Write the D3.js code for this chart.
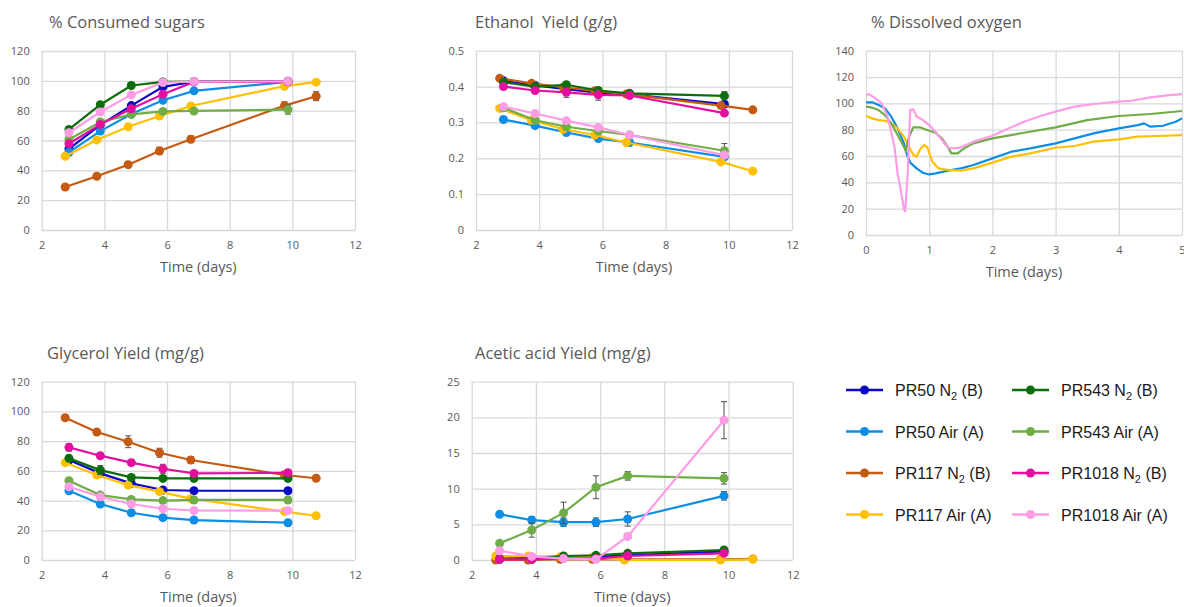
<!DOCTYPE html>
<html>
<head>
<meta charset="utf-8">
<script src="https://cdn.jsdelivr.net/npm/d3@7"></script>
<style>
body { margin: 0; background: #fff; }
svg { display: block; }
</style>
</head>
<body>
<svg width="1184" height="607"></svg>
<script>
// series, in the order Excel draws them (later ones on top)
var seriesNames = ["PR50 N2 (B)", "PR50 Air (A)", "PR117 N2 (B)", "PR117 Air (A)", "PR543 N2 (B)", "PR543 Air (A)", "PR1018 N2 (B)", "PR1018 Air (A)"];
var seriesColors = ["#0a0ac6", "#0d8ee4", "#c55a11", "#ffc000", "#0b6e0b", "#70ad47", "#e3109f", "#ff9ce6"];

// sampling times (days): PR117 runs have an extra sample at the end
var daysShort = [2.87, 3.87, 4.86, 5.87, 6.86, 9.86];
var daysLong = [2.75, 3.76, 4.76, 5.76, 6.76, 9.75, 10.76];
var seriesDays = [daysShort, daysShort, daysLong, daysLong, daysShort, daysShort, daysShort, daysShort];

// % consumed sugars
var sugars = [
	[54.4, 70.5, 83.4, 96.0, 99.5, 99.8],
	[52.1, 66.3, 77.8, 87.0, 93.3, 99.3],
	[28.8, 36.0, 43.8, 53.0, 60.8, 83.4, 89.7],
	[49.4, 60.4, 69.2, 76.4, 83.1, 96.4, 99.1],
	[67.4, 84.0, 96.9, 99.3, 99.5, 99.5],
	[60.7, 72.4, 77.5, 79.5, 79.8, 80.7],
	[57.8, 70.8, 81.3, 91.0, 99.3, 99.3],
	[65.2, 79.1, 90.6, 98.9, 99.5, 99.6]
];
var sugarsErr = [
	[0.8, 0.8, 0.8, 0.8, 0.5, 0.5],
	[0.8, 0.8, 0.8, 0.8, 0.8, 0.5],
	[0.8, 1.0, 2.0, 2.5, 2.2, 2.5, 3.0],
	[0.5, 0.5, 0.5, 0.5, 0.5, 0.5, 0.5],
	[0.8, 0.8, 0.5, 0.5, 0.5, 0.5],
	[1.0, 1.0, 1.0, 1.2, 1.5, 3.0],
	[0.8, 0.8, 0.8, 0.8, 0.5, 0.5],
	[0.5, 0.5, 0.5, 0.5, 0.5, 0.5]
];

// ethanol yield (g/g)
var ethanol = [
	[0.416, 0.403, 0.393, 0.383, 0.378, 0.351],
	[0.308, 0.291, 0.272, 0.255, 0.244, 0.204],
	[0.423, 0.409, 0.398, 0.388, 0.379, 0.347, 0.335],
	[0.339, 0.306, 0.281, 0.265, 0.244, 0.190, 0.164],
	[0.412, 0.400, 0.405, 0.389, 0.381, 0.374],
	[0.341, 0.306, 0.288, 0.276, 0.265, 0.221],
	[0.400, 0.389, 0.384, 0.377, 0.375, 0.326],
	[0.344, 0.325, 0.305, 0.286, 0.265, 0.209]
];
var ethanolErr = [
	[0.004, 0.004, 0.004, 0.004, 0.004, 0.008],
	[0.004, 0.004, 0.004, 0.004, 0.004, 0.006],
	[0.004, 0.004, 0.004, 0.004, 0.004, 0.006, 0.004],
	[0.004, 0.004, 0.004, 0.004, 0.004, 0.004, 0.008],
	[0.004, 0.004, 0.004, 0.006, 0.006, 0.012],
	[0.004, 0.004, 0.004, 0.004, 0.004, 0.020],
	[0.005, 0.005, 0.014, 0.015, 0.006, 0.006],
	[0.004, 0.004, 0.004, 0.004, 0.004, 0.004]
];

// glycerol yield (mg/g)
var glycerol = [
	[67.3, 58.3, 51.6, 47.1, 46.6, 46.6],
	[46.6, 37.7, 31.8, 28.5, 26.9, 25.1],
	[95.7, 86.1, 79.6, 72.2, 67.3, 57.2, 55.0],
	[65.5, 57.2, 50.4, 46.0, 41.3, 32.6, 29.8],
	[68.4, 60.5, 55.6, 54.9, 54.9, 54.9],
	[53.4, 43.7, 40.8, 40.0, 40.4, 40.4],
	[75.8, 70.2, 65.5, 61.4, 58.3, 58.7],
	[49.3, 42.6, 37.7, 34.5, 33.3, 33.2]
];
var glycerolErr = [
	[1.5, 1.5, 1.0, 1.0, 1.0, 1.0],
	[1.0, 1.0, 1.0, 1.0, 1.0, 1.0],
	[1.0, 1.5, 4.0, 3.0, 2.2, 2.5, 2.0],
	[1.0, 1.0, 1.0, 1.0, 1.0, 1.0, 1.0],
	[2.0, 3.0, 1.5, 1.0, 1.0, 1.0],
	[1.5, 1.5, 1.5, 2.0, 2.0, 2.0],
	[2.5, 1.5, 1.5, 3.0, 1.0, 2.0],
	[1.0, 1.0, 1.0, 1.0, 1.0, 1.0]
];

// acetic acid yield (mg/g)
var acetic = [
	[0.10, 0.10, 0.35, 0.45, 0.65, 1.20],
	[6.40, 5.60, 5.30, 5.30, 5.75, 9.00],
	[0.00, 0.00, 0.10, 0.10, 0.10, 0.10, 0.15],
	[0.56, 0.56, 0.45, 0.40, 0.00, 0.00, 0.10],
	[0.20, 0.30, 0.56, 0.65, 0.93, 1.40],
	[2.34, 4.20, 6.60, 10.20, 11.80, 11.45],
	[0.10, 0.10, 0.23, 0.20, 0.56, 0.93],
	[1.30, 0.50, 0.20, 0.10, 3.30, 19.60]
];
var aceticErr = [
	[0.1, 0.1, 0.1, 0.1, 0.1, 0.2],
	[0.2, 0.5, 0.6, 0.6, 1.0, 0.6],
	[0.1, 0.1, 0.1, 0.1, 0.1, 0.1, 0.1],
	[0.1, 0.1, 0.1, 0.1, 0.1, 0.1, 0.1],
	[0.1, 0.1, 0.1, 0.1, 0.1, 0.2],
	[0.2, 1.0, 1.5, 1.6, 0.6, 0.8],
	[0.1, 0.1, 0.1, 0.1, 0.1, 0.2],
	[0.1, 0.1, 0.1, 0.1, 0.4, 2.6]
];

// % dissolved oxygen, [day, value] readings for the aerated runs
var o2PR50Air = [[0, 100.8], [0.1, 100.8], [0.2, 98.7], [0.3, 96.2], [0.4, 89.9], [0.5, 81], [0.6, 69.6], [0.65, 60.8], [0.7, 55], [0.8, 50.6], [0.9, 47.3], [1.0, 46], [1.1, 46.8], [1.3, 48.9], [1.5, 50.6], [1.7, 53.2], [2.0, 58.2], [2.3, 63.3], [2.6, 65.8], [3.0, 69.6], [3.3, 73.4], [3.6, 77.2], [4.0, 81], [4.3, 83.5], [4.4, 84.8], [4.5, 82.3], [4.7, 83], [4.9, 86], [5.0, 88.6]];
var o2PR117Air = [[0, 90.4], [0.1, 88.6], [0.2, 87.3], [0.3, 86.8], [0.4, 84.8], [0.5, 81], [0.6, 74.7], [0.68, 67], [0.75, 60.8], [0.8, 59.5], [0.85, 64.6], [0.92, 68.4], [0.97, 66.6], [1.05, 55.7], [1.15, 50.6], [1.3, 49.4], [1.5, 48.9], [1.7, 50.6], [2.0, 55], [2.3, 59.5], [2.6, 62], [3.0, 66.3], [3.3, 67.6], [3.6, 70.9], [4.0, 72.7], [4.3, 74.7], [4.6, 75.2], [5.0, 75.9]];
var o2PR543Air = [[0, 97.5], [0.1, 96.7], [0.2, 94.9], [0.3, 91.1], [0.4, 84.8], [0.5, 75.9], [0.6, 67], [0.63, 63.8], [0.68, 74.7], [0.75, 81.8], [0.85, 81.8], [1.0, 79.2], [1.1, 77.7], [1.2, 73.4], [1.3, 66.6], [1.35, 62], [1.45, 62], [1.55, 65.8], [1.7, 69.6], [2.0, 73.4], [2.5, 77.7], [3.0, 81.8], [3.5, 87.3], [4.0, 90.4], [4.5, 91.9], [5.0, 94.2]];
var o2PR1018Air = [[0, 106.3], [0.05, 107], [0.15, 103.8], [0.25, 100], [0.35, 88.6], [0.45, 67], [0.5, 46.8], [0.55, 34], [0.6, 20], [0.62, 18], [0.66, 47], [0.7, 95], [0.75, 95.4], [0.8, 90], [0.9, 87.3], [1.0, 83.5], [1.1, 78.5], [1.2, 72], [1.3, 66.3], [1.4, 65.8], [1.5, 66.6], [1.7, 70.9], [2.0, 75.4], [2.2, 79.7], [2.5, 86], [2.8, 91], [3.0, 93.7], [3.3, 97.5], [3.6, 99.5], [4.0, 101.3], [4.2, 102], [4.5, 104.6], [4.8, 106.3], [5.0, 107]];
var o2Series = [o2PR50Air, o2PR117Air, o2PR543Air, o2PR1018Air];
var o2Colors = [seriesColors[1], seriesColors[3], seriesColors[5], seriesColors[7]];

// tick labels
var timeTicks = [2, 4, 6, 8, 10, 12];
var o2TimeTicks = [0, 1, 2, 3, 4, 5];
var pctTicks = [0, 20, 40, 60, 80, 100, 120];
var o2Ticks = [0, 20, 40, 60, 80, 100, 120, 140];
var ethanolTicks = [0, 0.1, 0.2, 0.3, 0.4, 0.5];
var aceticTicks = [0, 5, 10, 15, 20, 25];

var svg = d3.select("svg");
var font = "'Open Sans', 'Liberation Sans', sans-serif";

function drawPanel(p) {
	var x = d3.scaleLinear().domain(p.xDomain).range([p.left, p.right]);
	var y = d3.scaleLinear().domain(p.yDomain).range([p.bottom, p.top]);
	var g = svg.append("g");

	// title
	g.append("text")
		.attr("x", p.titleX)
		.attr("y", p.top - 23)
		.attr("fill", "#595959")
		.style("font-family", font)
		.style("font-size", "16.5px")
		.style("white-space", "pre")
		.text(p.title);

	// gridlines doubling as axes
	g.append("g")
		.attr("transform", "translate(0," + p.bottom + ")")
		.call(d3.axisBottom(x).tickValues(p.xTicks).tickSize(-(p.bottom - p.top)).tickPadding(11).tickFormat(d3.format("d")));
	g.append("g")
		.attr("transform", "translate(" + p.left + ",0)")
		.call(d3.axisLeft(y).tickValues(p.yTicks).tickSize(-(p.right - p.left)).tickPadding(12).tickFormat(function(d) { return String(d); }));
	g.selectAll(".domain").remove();
	g.selectAll(".tick line").attr("stroke", "#d9d9d9").attr("stroke-width", 1.3);
	g.selectAll(".tick text").attr("fill", "#595959").style("font-family", font).style("font-size", "11px");

	g.append("text")
		.attr("x", (p.left + p.right) / 2)
		.attr("y", p.bottom + 42)
		.attr("text-anchor", "middle")
		.attr("fill", "#595959")
		.style("font-family", font)
		.style("font-size", "14.5px")
		.text("Time (days)");

	var line = d3.line()
		.x(function(d) { return x(d[0]); })
		.y(function(d) { return y(d[1]); });

	if (p.continuous) { //oxygen probe traces, no markers
		p.series.forEach(function(s, i) {
			g.append("path")
				.attr("d", line(s))
				.attr("fill", "none")
				.attr("stroke", p.colors[i])
				.attr("stroke-width", 2.2)
				.attr("stroke-linejoin", "round");
		});
		return;
	}

	p.values.forEach(function(vals, i) {
		var pts = d3.zip(seriesDays[i], vals, p.errors[i]);
		var s = g.append("g");
		s.append("path")
			.attr("d", line(pts))
			.attr("fill", "none")
			.attr("stroke", seriesColors[i])
			.attr("stroke-width", 2.2);

		var bars = s.selectAll(".err").data(pts).enter().append("g").attr("class", "err")
			.attr("stroke", "#505050").attr("stroke-width", 1);
		bars.append("line")
			.attr("x1", function(d) { return x(d[0]); })
			.attr("x2", function(d) { return x(d[0]); })
			.attr("y1", function(d) { return y(d[1] - d[2]); })
			.attr("y2", function(d) { return y(d[1] + d[2]); });
		[-1, 1].forEach(function(sign) { //caps
			bars.append("line")
				.attr("x1", function(d) { return x(d[0]) - 3; })
				.attr("x2", function(d) { return x(d[0]) + 3; })
				.attr("y1", function(d) { return y(d[1] + sign * d[2]); })
				.attr("y2", function(d) { return y(d[1] + sign * d[2]); });
		});

		s.selectAll("circle").data(pts).enter().append("circle")
			.attr("cx", function(d) { return x(d[0]); })
			.attr("cy", function(d) { return y(d[1]); })
			.attr("r", 4.5)
			.attr("fill", seriesColors[i]);
	});
}

drawPanel({ title: "% Consumed sugars", titleX: 49, left: 41.7, right: 355, top: 51, bottom: 230,
	xDomain: [2, 12], yDomain: [0, 120], xTicks: timeTicks, yTicks: pctTicks, values: sugars, errors: sugarsErr });
drawPanel({ title: "Ethanol  Yield (g/g)", titleX: 475, left: 476, right: 792, top: 50.7, bottom: 230,
	xDomain: [2, 12], yDomain: [0, 0.5], xTicks: timeTicks, yTicks: ethanolTicks, values: ethanol, errors: ethanolErr });
drawPanel({ title: "% Dissolved oxygen", titleX: 871, left: 866, right: 1182, top: 50.7, bottom: 235,
	xDomain: [0, 5], yDomain: [0, 140], xTicks: o2TimeTicks, yTicks: o2Ticks, continuous: true, series: o2Series, colors: o2Colors });
drawPanel({ title: "Glycerol Yield (mg/g)", titleX: 47, left: 41.7, right: 355, top: 381.7, bottom: 560,
	xDomain: [2, 12], yDomain: [0, 120], xTicks: timeTicks, yTicks: pctTicks, values: glycerol, errors: glycerolErr });
drawPanel({ title: "Acetic acid Yield (mg/g)", titleX: 475, left: 471.7, right: 792.7, top: 381.7, bottom: 560,
	xDomain: [2, 12], yDomain: [0, 25], xTicks: timeTicks, yTicks: aceticTicks, values: acetic, errors: aceticErr });

// legend, two columns of four
var legend = svg.append("g");
var legendItem = legend.selectAll("g").data(seriesNames).enter().append("g")
	.attr("transform", function(d, i) {
		var col = Math.floor(i / 4), row = i % 4;
		return "translate(" + (846 + col * 166) + "," + (390 + row * 41.5) + ")";
	});
legendItem.append("line")
	.attr("x1", 0).attr("x2", 37)
	.attr("stroke", function(d, i) { return seriesColors[i]; })
	.attr("stroke-width", 2.5);
legendItem.append("circle")
	.attr("cx", 18.5).attr("r", 4.5)
	.attr("fill", function(d, i) { return seriesColors[i]; });
var legendText = legendItem.append("text")
	.attr("x", 49).attr("y", 6)
	.attr("fill", "#1a1a1a")
	.style("font-family", "'Liberation Sans', Arial, sans-serif")
	.style("font-size", "16px");
legendText.each(function(d) {
	var t = d3.select(this);
	var parts = d.split("N2"); //subscript the 2 in N2
	t.append("tspan").text(parts[0] + (parts.length > 1 ? "N" : ""));
	if (parts.length > 1) {
		t.append("tspan").attr("dy", 4).style("font-size", "11px").text("2");
		t.append("tspan").attr("dy", -4).text(parts[1]);
	}
});
</script>
</body>
</html>
